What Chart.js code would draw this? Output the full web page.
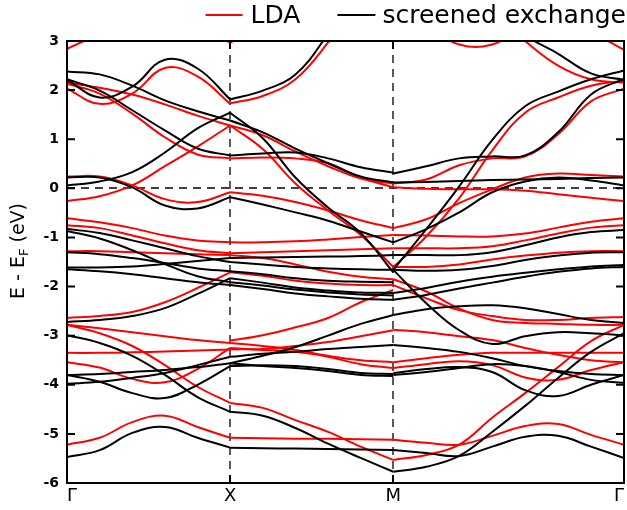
<!DOCTYPE html>
<html>
<head>
<meta charset="utf-8">
<script src="https://cdn.jsdelivr.net/npm/chart.js@4.4.0/dist/chart.umd.min.js"></script>
<style>
  html, body { margin: 0; padding: 0; background: #fff; }
  #wrap { width: 627px; height: 510px; }
</style>
</head>
<body>
<div id="wrap"><canvas id="bands" width="627" height="510"></canvas></div>
<script>
// k-path positions (Γ-X, X-M, M-Γ) and tick labels
const kGX = [0, 0.2, 0.4, 0.6, 0.8, 1];
const kXM = [1, 1.2, 1.4, 1.6, 1.8, 2];
const kMG = [2, 2.202, 2.404, 2.606, 2.808, 3.010, 3.212, 3.414];
const kTicks = [0, 1, 2, 3.414];
const kNames = ['Γ', 'X', 'M', 'Γ'];

// LDA bands (eV), one row per band on each segment
const ldaGX = [
  [2.84, 3.15, null, null, null, null],
  [null, null, null, null, 3.4, 2.96],
  [2.15, 2.05, 1.91, 1.71, 1.48, 1.28],
  [2.03, 1.72, 1.93, 2.45, 2.28, 1.72],
  [2.13, 1.93, 1.52, 1.04, 0.69, 0.61],
  [-0.26, -0.16, 0.06, 0.45, 0.85, 1.28],
  [0.24, 0.24, 0.06, -0.22, -0.28, -0.08],
  [-0.61, -0.69, -0.81, -0.96, -1.06, -1.10],
  [-0.75, -0.81, -0.96, -1.12, -1.26, -1.32],
  [-1.28, -1.28, -1.30, -1.32, -1.34, -1.36],
  [-2.64, -2.60, -2.52, -2.32, -2.03, -1.71],
  [-2.78, -2.85, -2.93, -3.01, -3.09, -3.15],
  [-2.78, -2.95, -3.21, -3.60, -4.04, -4.37],
  [-3.35, -3.35, -3.34, -3.32, -3.30, -3.28],
  [-3.54, -3.65, -3.88, -3.95, -3.68, -3.25],
  [-5.22, -5.08, -4.76, -4.63, -4.86, -5.08]
];
const ldaXM = [
  [2.96, 3.4, null, null, null, null],
  [1.73, 1.88, 2.22, 2.97, 3.9, 4.8],
  [1.28, 1.08, 0.75, 0.45, 0.20, 0.10],
  [1.28, 0.80, 0.10, -0.45, -0.95, -1.60],
  [0.61, 0.63, 0.61, 0.51, 0.22, 0.02],
  [-0.08, -0.15, -0.28, -0.45, -0.65, -0.81],
  [-1.10, -1.10, -1.08, -1.04, -0.99, -0.95],
  [-1.32, -1.30, -1.28, -1.26, -1.24, -1.22],
  [-1.36, -1.42, -1.55, -1.70, -1.80, -1.85],
  [-1.71, -1.78, -1.88, -1.94, -1.97, -1.97],
  [-3.10, -2.99, -2.83, -2.64, -2.32, -2.07],
  [-3.28, -3.27, -3.21, -3.13, -3.01, -2.89],
  [-3.15, -3.21, -3.29, -3.41, -3.50, -3.54],
  [-3.25, -3.29, -3.33, -3.43, -3.58, -3.66],
  [-4.37, -4.47, -4.72, -4.96, -5.26, -5.53],
  [-5.08, -5.09, -5.10, -5.10, -5.11, -5.12]
];
const ldaMG = [
  [null, 3.3, 2.93, 2.93, 3.3, null, null, null],
  [null, null, null, null, null, 3.6, 3.2, 2.82],
  [null, null, null, 3.6, 3.0, 2.50, 2.22, 2.15],
  [-1.60, -0.98, -0.20, 0.77, 1.54, 1.85, 2.09, 2.19],
  [0.10, 0.18, 0.47, 0.61, 0.65, 1.10, 1.77, 2.03],
  [0.02, -0.01, -0.02, -0.02, -0.05, -0.12, -0.19, -0.26],
  [-0.81, -0.63, -0.30, -0.02, 0.22, 0.30, 0.27, 0.24],
  [-0.95, -0.96, -0.98, -0.98, -0.92, -0.80, -0.68, -0.61],
  [-1.22, -1.22, -1.22, -1.18, -1.06, -0.92, -0.80, -0.75],
  [-1.60, -1.60, -1.55, -1.45, -1.37, -1.31, -1.28, -1.28],
  [-1.85, -2.10, -2.45, -2.68, -2.74, -2.76, -2.78, -2.78],
  [-1.97, -2.24, -2.48, -2.60, -2.68, -2.68, -2.64, -2.62],
  [-2.88, -2.93, -3.01, -3.09, -3.25, -3.39, -3.50, -3.54],
  [-3.54, -3.46, -3.39, -3.35, -3.35, -3.35, -3.35, -3.35],
  [-3.66, -3.58, -3.52, -3.60, -3.85, -3.90, -3.70, -3.54],
  [-5.53, -5.43, -5.22, -4.67, -4.17, -3.64, -3.11, -2.78],
  [-5.12, -5.18, -5.22, -5.04, -4.84, -4.80, -5.02, -5.22]
];

// screened exchange bands (eV)
const sxGX = [
  [2.38, 2.32, 2.09, 1.79, 1.57, 1.38],
  [2.21, 1.85, 2.07, 2.62, 2.44, 1.81],
  [2.22, 1.99, 1.59, 1.18, 0.81, 0.67],
  [0.06, 0.14, 0.33, 0.73, 1.22, 1.54],
  [0.22, 0.22, 0.02, -0.35, -0.41, -0.18],
  [-0.83, -0.91, -1.06, -1.22, -1.38, -1.50],
  [-0.87, -1.02, -1.26, -1.54, -1.79, -1.91],
  [-1.30, -1.34, -1.42, -1.52, -1.63, -1.69],
  [-1.61, -1.61, -1.59, -1.54, -1.48, -1.42],
  [-1.65, -1.69, -1.75, -1.83, -1.91, -1.97],
  [-2.72, -2.68, -2.60, -2.44, -2.15, -1.83],
  [-2.99, -3.15, -3.41, -3.80, -4.25, -4.55],
  [-3.80, -3.94, -4.17, -4.27, -4.00, -3.62],
  [-3.80, -3.78, -3.74, -3.70, -3.64, -3.56],
  [-3.98, -3.94, -3.86, -3.76, -3.60, -3.43],
  [-5.47, -5.33, -4.98, -4.86, -5.08, -5.28]
];
const sxXM = [
  [1.81, 1.99, 2.32, 3.15, 4.2, 5.0],
  [1.54, 1.02, 0.22, -0.39, -0.91, -1.71],
  [1.38, 1.14, 0.81, 0.51, 0.24, 0.12],
  [0.67, 0.71, 0.73, 0.61, 0.43, 0.32],
  [-0.18, -0.33, -0.49, -0.66, -0.88, -1.10],
  [-1.42, -1.41, -1.40, -1.39, -1.38, -1.36],
  [-1.50, -1.55, -1.60, -1.63, -1.65, -1.66],
  [-1.69, -1.75, -1.83, -1.88, -1.90, -1.91],
  [-1.83, -1.92, -2.02, -2.08, -2.12, -2.13],
  [-1.91, -1.98, -2.06, -2.12, -2.16, -2.18],
  [-1.97, -2.05, -2.14, -2.20, -2.25, -2.27],
  [-3.56, -3.41, -3.23, -3.00, -2.76, -2.58],
  [-3.43, -3.37, -3.33, -3.27, -3.23, -3.19],
  [-3.62, -3.60, -3.62, -3.68, -3.76, -3.78],
  [-3.56, -3.62, -3.66, -3.72, -3.80, -3.82],
  [-4.55, -4.63, -4.88, -5.20, -5.49, -5.77],
  [-5.28, -5.29, -5.30, -5.31, -5.32, -5.33]
];
const sxMG = [
  [null, null, null, 3.7, 3.12, 2.74, 2.34, 2.21],
  [-1.66, -0.83, 0.04, 0.98, 1.67, 1.97, 2.22, 2.40],
  [0.30, 0.45, 0.61, 0.65, 0.67, 1.14, 1.91, 2.23],
  [0.12, 0.13, 0.15, 0.17, 0.18, 0.19, 0.21, 0.22],
  [-1.10, -0.83, -0.49, -0.08, 0.14, 0.22, 0.16, 0.06],
  [-1.36, -1.36, -1.36, -1.30, -1.16, -1.00, -0.89, -0.85],
  [-1.66, -1.68, -1.66, -1.58, -1.46, -1.37, -1.31, -1.30],
  [-2.13, -2.03, -1.90, -1.80, -1.72, -1.65, -1.59, -1.56],
  [-2.27, -2.17, -2.04, -1.92, -1.80, -1.70, -1.63, -1.60],
  [-2.58, -2.46, -2.40, -2.38, -2.44, -2.56, -2.68, -2.74],
  [-1.66, -2.34, -2.89, -3.17, -3.01, -2.93, -2.95, -2.99],
  [-3.19, -3.25, -3.33, -3.46, -3.62, -3.72, -3.78, -3.80],
  [-3.76, -3.68, -3.64, -3.74, -4.11, -4.23, -4.00, -3.80],
  [-3.80, -3.74, -3.66, -3.58, -3.62, -3.74, -3.90, -3.96],
  [-5.77, -5.67, -5.45, -4.96, -4.43, -3.86, -3.33, -2.95],
  [-5.33, -5.39, -5.45, -5.26, -5.06, -5.04, -5.26, -5.49]
];

const RED = '#ff0000';
const BLACK = '#000000';
const FONT = '"DejaVu Sans", "Liberation Sans", sans-serif';

function bandSets(name, color, parts, order) {
  const sets = [];
  parts.forEach(([ks, bands]) => {
    bands.forEach(vals => {
      const pts = [];
      vals.forEach((e, i) => { if (e !== null) pts.push({ x: ks[i], y: e }); });
      sets.push({
        label: name,
        data: pts,
        borderColor: color,
        backgroundColor: color,
        borderWidth: 2,
        pointRadius: 0,
        tension: 0.4,
        fill: false,
        order: order
      });
    });
  });
  return sets;
}

const datasets = [
  ...bandSets('screened exchange', BLACK, [[kGX, sxGX], [kXM, sxXM], [kMG, sxMG]], 0),
  ...bandSets('LDA', RED, [[kGX, ldaGX], [kXM, ldaXM], [kMG, ldaMG]], 1)
];

// dashed guides, frame, inner ticks, legend and axis title
const decor = {
  id: 'decor',
  beforeDatasetsDraw(chart) {
    const { ctx, chartArea: a, scales: { x, y } } = chart;
    ctx.save();
    ctx.strokeStyle = '#000';
    ctx.lineWidth = 1.3;
    ctx.setLineDash([8, 6]);
    [kTicks[1], kTicks[2]].forEach(k => {
      const px = Math.round(x.getPixelForValue(k));
      ctx.beginPath(); ctx.moveTo(px, a.top); ctx.lineTo(px, a.bottom); ctx.stroke();
    });
    const py = Math.round(y.getPixelForValue(0));
    ctx.beginPath(); ctx.moveTo(a.left, py); ctx.lineTo(a.right, py); ctx.stroke();
    ctx.restore();
  },
  afterDatasetsDraw(chart) {
    const { ctx, chartArea: a, scales: { x, y } } = chart;
    ctx.save();
    ctx.strokeStyle = '#000';
    ctx.lineWidth = 2;
    ctx.strokeRect(a.left, a.top, a.right - a.left, a.bottom - a.top);
    for (let v = -6; v <= 3; v++) {
      const py = y.getPixelForValue(v);
      ctx.beginPath();
      ctx.moveTo(a.left, py); ctx.lineTo(a.left + 8, py);
      ctx.moveTo(a.right, py); ctx.lineTo(a.right - 8, py);
      ctx.stroke();
    }
    [kTicks[1], kTicks[2]].forEach(k => {
      const px = Math.round(x.getPixelForValue(k));
      ctx.beginPath();
      ctx.moveTo(px, a.top); ctx.lineTo(px, a.top + 8);
      ctx.moveTo(px, a.bottom); ctx.lineTo(px, a.bottom - 8);
      ctx.stroke();
    });
    ctx.restore();
  },
  afterDraw(chart) {
    const { ctx, chartArea: a } = chart;
    ctx.save();
    // legend
    ctx.font = '25px ' + FONT;
    ctx.textBaseline = 'middle';
    ctx.textAlign = 'left';
    const ly = 15;
    const t2 = 'screened exchange', t1 = 'LDA';
    const w2 = ctx.measureText(t2).width, w1 = ctx.measureText(t1).width;
    const x2 = 626 - w2;
    const x1 = x2 - 45 - 37 - w1;
    ctx.lineWidth = 2;
    ctx.strokeStyle = RED;
    ctx.beginPath(); ctx.moveTo(x1 - 45, ly); ctx.lineTo(x1 - 8, ly); ctx.stroke();
    ctx.strokeStyle = BLACK;
    ctx.beginPath(); ctx.moveTo(x2 - 45, ly); ctx.lineTo(x2 - 7, ly); ctx.stroke();
    ctx.fillStyle = '#000';
    ctx.fillText(t1, x1, ly + 1);
    ctx.fillText(t2, x2, ly + 1);
    // y title with subscript
    ctx.translate(19, (a.top + a.bottom) / 2 - 11);
    ctx.rotate(-Math.PI / 2);
    const big = '19px ' + FONT, small = '13px ' + FONT;
    const p1 = 'E - E', p2 = 'F', p3 = ' (eV)';
    ctx.font = big; const wa = ctx.measureText(p1).width, wc = ctx.measureText(p3).width;
    ctx.font = small; const wb = ctx.measureText(p2).width;
    let tx = -(wa + wb + wc) / 2;
    ctx.font = big; ctx.fillText(p1, tx, 0); tx += wa;
    ctx.font = small; ctx.fillText(p2, tx, 6); tx += wb;
    ctx.font = big; ctx.fillText(p3, tx, 0);
    ctx.restore();
  }
};

new Chart(document.getElementById('bands'), {
  type: 'line',
  data: { datasets },
  options: {
    responsive: false,
    animation: false,
    events: [],
    layout: { padding: { top: 41, right: 1, left: 0, bottom: 0 } },
    elements: { line: { capBezierPoints: false } },
    plugins: { legend: { display: false }, tooltip: { enabled: false } },
    scales: {
      x: {
        type: 'linear',
        min: 0,
        max: kTicks[3],
        afterBuildTicks: s => { s.ticks = kTicks.map(v => ({ value: v })); },
        afterFit: s => { s.height = 27; },
        grid: { display: false, drawTicks: false },
        border: { display: false },
        ticks: {
          autoSkip: false,
          maxRotation: 0,
          align: 'inner',
          padding: 3,
          color: '#000',
          font: { family: FONT, size: 18 },
          callback: (v, i) => kNames[i]
        }
      },
      y: {
        min: -6,
        max: 3,
        afterFit: s => { s.width = 67; },
        grid: { display: false, drawTicks: false },
        border: { display: false },
        ticks: {
          stepSize: 1,
          padding: 8,
          color: '#000',
          font: { family: FONT, size: 14, weight: 'bold' }
        }
      }
    }
  },
  plugins: [decor]
});
</script>
</body>
</html>
